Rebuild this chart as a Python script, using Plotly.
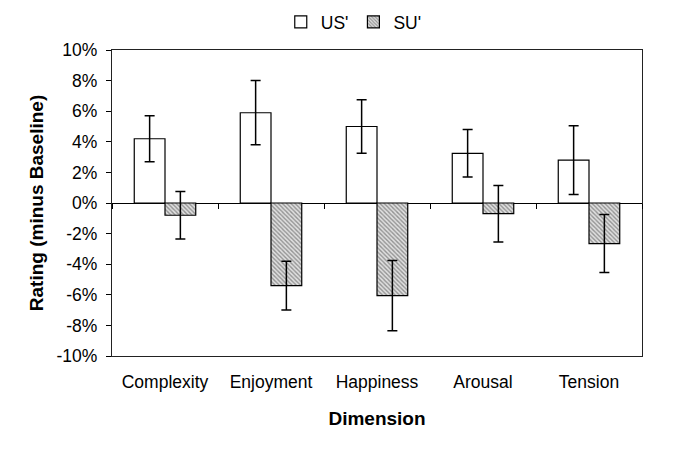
import plotly.graph_objects as go

categories = ["Complexity", "Enjoyment", "Happiness", "Arousal", "Tension"]
us_values = [4.2, 5.9, 5.0, 3.25, 2.8]
us_errors = [1.5, 2.1, 1.75, 1.55, 2.25]
su_values = [-0.8, -5.4, -6.05, -0.7, -2.65]
su_errors = [1.55, 1.6, 2.3, 1.85, 1.9]
y_tickvals = [-10, -8, -6, -4, -2, 0, 2, 4, 6, 8, 10]
y_ticktext = ["-10%", "-8%", "-6%", "-4%", "-2%", "0%", "2%", "4%", "6%", "8%", "10%"]

FONT = "Liberation Sans, Arial, sans-serif"

fig = go.Figure()
fig.add_trace(go.Bar(
    name="US'", x=categories, y=us_values,
    marker=dict(color="white", line=dict(color="black", width=1.2)),
    error_y=dict(type="data", array=us_errors, visible=True, color="black", thickness=1.5, width=5),
))
fig.add_trace(go.Bar(
    name="SU'", x=categories, y=su_values,
    marker=dict(color="#d0d0d0", line=dict(color="black", width=1.2),
                pattern=dict(shape="\\", fgcolor="#444444", bgcolor="#e0e0e0", size=3, solidity=0.45)),
    error_y=dict(type="data", array=su_errors, visible=True, color="black", thickness=1.5, width=5),
))
# invisible trace to carry the boundary ticks on the zero line axis
fig.add_trace(go.Scatter(x=categories, y=[0]*len(categories), xaxis="x2", mode="markers",
                         marker=dict(opacity=0), showlegend=False, hoverinfo="skip"))

fig.update_layout(
    width=674, height=452,
    margin=dict(l=104, r=40, t=42, b=104),
    paper_bgcolor="white", plot_bgcolor="white",
    barmode="group", bargap=0.42, bargroupgap=0,
    font=dict(family=FONT, color="black", size=17.5),
    legend=dict(orientation="h", x=0.513, xanchor="center", xref="container",
                y=0.969, yanchor="middle", yref="container",
                font=dict(size=17.5, family=FONT), traceorder="normal", itemwidth=30),
    xaxis=dict(showline=True, mirror=True, linecolor="#222", linewidth=1.2,
               ticks="", tickfont=dict(size=17.5), automargin=False, ticklabelstandoff=10,
               title=dict(text="<b>Dimension</b>", font=dict(size=19), standoff=20)),
    xaxis2=dict(overlaying="x", matches="x", anchor="free", position=0.5, side="bottom",
                showline=False, showticklabels=False, ticks="outside", ticklen=5,
                tickcolor="black", tickwidth=1.2, tickson="boundaries", showgrid=False,
                type="category", automargin=False),
    yaxis=dict(range=[-10, 10], tickvals=y_tickvals, ticktext=y_ticktext,
               showline=True, mirror=True, linecolor="#222", linewidth=1.2,
               ticks="outside", ticklen=5, tickcolor="black", showgrid=False,
               zeroline=True, zerolinecolor="black", zerolinewidth=1.2,
               tickfont=dict(size=17.5), automargin=False, ticklabelstandoff=5,
               title=dict(text="<b>Rating (minus Baseline)</b>", font=dict(size=19), standoff=7)),
)

fig.write_html("out.html")
